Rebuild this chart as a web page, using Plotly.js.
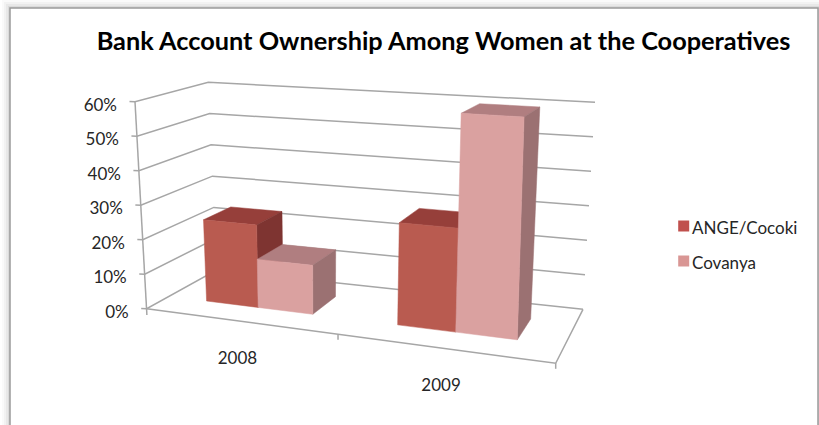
<!DOCTYPE html>
<html>
<head>
<meta charset="utf-8">
<script src="https://cdn.plot.ly/plotly-3.0.1.min.js"></script>
<style>html,body{margin:0;padding:0;background:#fff}#chart{width:819px;height:425px}</style>
</head>
<body>
<div id="chart"></div>
<script>
// Bank account ownership, percent of women, by year and cooperative
const years = ["2008", "2009"];
const seriesNames = ["ANGE/Cocoki", "Covanya"];
const angeCocoki = [24, 28.5];
const covanya = [14, 60];
const valueTicks = [0, 10, 20, 30, 40, 50, 60];
const axisMax = 60;

// Face shades per series
const frontColors = ["#B95B50", "#DAA1A0"];
const topColors = ["#963F3A", "#B07E80"];
const sideColors = ["#7E3431", "#9B7172"];
const legendColors = ["#C0504D", "#D99694"];

// Projected box of the oblique chart: floor and ceiling corners in page pixels
const floorQuad = [[146.7, 308.7], [555.7, 363.3], [583, 309.3], [216.5, 270]];
const topQuad = [[135, 101.7], [561, 128], [595, 102.3], [208.3, 82.3]];

// Unit-square to quad perspective map
function quadMap(q) {
  const [[x0, y0], [x1, y1], [x2, y2], [x3, y3]] = q;
  const dx1 = x1 - x2, dx2 = x3 - x2, dx3 = x0 - x1 + x2 - x3;
  const dy1 = y1 - y2, dy2 = y3 - y2, dy3 = y0 - y1 + y2 - y3;
  const det = dx1 * dy2 - dx2 * dy1;
  const g = (dx3 * dy2 - dx2 * dy3) / det;
  const h = (dx1 * dy3 - dx3 * dy1) / det;
  const a = x1 - x0 + g * x1, b = x3 - x0 + h * x3;
  const d = y1 - y0 + g * y1, e = y3 - y0 + h * y3;
  return (u, v) => {
    const w = g * u + h * v + 1;
    return [(a * u + b * v + x0) / w, (d * u + e * v + y0) / w];
  };
}
const mapFloor = quadMap(floorQuad);
const mapTop = quadMap(topQuad);

// u runs along the categories, d runs front to back, val is the data value
function project(u, d, val) {
  const t = val / axisMax;
  const p = mapFloor(u, d), q = mapTop(u, d);
  return [p[0] + (q[0] - p[0]) * t, p[1] + (q[1] - p[1]) * t];
}

const traces = [];
function polyline(points, color, width) {
  traces.push({
    type: "scatter", mode: "lines", showlegend: false, hoverinfo: "skip",
    x: points.map(p => p[0]), y: points.map(p => p[1]),
    line: { color: color, width: width }
  });
}
function face(points, color, name) {
  const loop = points.concat([points[0]]);
  traces.push({
    type: "scatter", mode: "lines", fill: "toself", fillcolor: color, name: name,
    showlegend: false, hoverinfo: "skip",
    x: loop.map(p => p[0]), y: loop.map(p => p[1]),
    line: { color: color, width: 0.5 }
  });
}

const gridColor = "#A6A6A6";
const gridWidth = 1.5;

// Walls: left wall, back wall, tick stubs and the floor outline
valueTicks.forEach(v => {
  const a = project(0, 0, v);
  polyline([[a[0] - 5.5, a[1] - 0.3], a, project(0, 1, v), project(1, 1, v)], gridColor, gridWidth);
});
polyline([project(0, 0, axisMax), project(0, 0, 0), [146.9, 315]], gridColor, gridWidth);
const floorFrontRight = project(1, 0, 0);
polyline([project(0, 0, 0), floorFrontRight, project(1, 1, 0)], gridColor, gridWidth);
polyline([floorFrontRight, [floorFrontRight[0], floorFrontRight[1] + 5.5]], gridColor, gridWidth);
const midTick = project(0.52, 0, 0);
polyline([midTick, [midTick[0], midTick[1] + 5.5]], gridColor, gridWidth);

// Bars: each category band is split between the two series
const catBands = [[0.1136, 0.411], [0.626, 0.9]];
const depthBand = [0.294, 0.695];
const seriesValues = [angeCocoki, covanya];
years.forEach((yr, c) => {
  const [lo, hi] = catBands[c];
  const mid = (lo + hi) / 2;
  seriesValues.forEach((vals, s) => {
    const u0 = s === 0 ? lo : mid, u1 = s === 0 ? mid : hi;
    const [d0, d1] = depthBand;
    const v = vals[c];
    const name = seriesNames[s] + " " + yr;
    face([project(u0, d0, v), project(u1, d0, v), project(u1, d1, v), project(u0, d1, v)], topColors[s], name);
    face([project(u1, d0, 0), project(u1, d1, 0), project(u1, d1, v), project(u1, d0, v)], sideColors[s], name);
    face([project(u0, d0, 0), project(u1, d0, 0), project(u1, d0, v), project(u0, d0, v)], frontColors[s], name);
  });
});

const labelFont = { family: "Lato, 'Open Sans', sans-serif", size: 17, color: "#262626" };

// Value labels beside the left wall
const tickPts = valueTicks.map(v => project(0, 0, v));
traces.push({
  type: "scatter", mode: "text", showlegend: false, hoverinfo: "skip",
  x: tickPts.map(p => p[0] - 18), y: tickPts.map(p => p[1] + 4.8),
  text: valueTicks.map(v => v + "%"), textposition: "middle left", textfont: labelFont
});

// Year labels under the front edge
const catCenters = [0.26, 0.76];
const catPts = catCenters.map(u => project(u, 0, 0));
traces.push({
  type: "scatter", mode: "text", showlegend: false, hoverinfo: "skip",
  x: catPts.map(p => p[0]), y: catPts.map(p => p[1] + 38.5),
  text: years, textposition: "middle center", textfont: labelFont
});

// Key on the right
seriesNames.forEach((n, i) => {
  const rowY = 226 + i * 35;
  traces.push({
    type: "scatter", mode: "markers", showlegend: false, hoverinfo: "skip", name: n,
    x: [683.7], y: [rowY],
    marker: { symbol: "square", size: 11, color: legendColors[i] }
  });
  traces.push({
    type: "scatter", mode: "text", showlegend: false, hoverinfo: "skip", name: n,
    x: [692], y: [rowY + 3.5],
    text: [n], textposition: "middle right", textfont: labelFont
  });
});

// Card outline with a soft shadow around it
const shapes = [];
[[8, 0.02], [6, 0.03], [4, 0.04], [2, 0.06]].forEach(([o, a]) => {
  shapes.push({ type: "rect", xref: "x", yref: "y", layer: "below",
    x0: 10 - o, x1: 818 + o, y0: 8 - o, y1: 440, fillcolor: "rgba(0,0,0," + a + ")", line: { width: 0 } });
});
shapes.push({ type: "rect", xref: "x", yref: "y", layer: "below",
  x0: 10, x1: 818, y0: 8, y1: 440, fillcolor: "#FFFFFF", line: { color: "#9A9A9A", width: 1.5 } });

const layout = {
  width: 819, height: 425, margin: { l: 0, r: 0, t: 0, b: 0 },
  paper_bgcolor: "#FFFFFF", plot_bgcolor: "rgba(0,0,0,0)", showlegend: false,
  title: {
    text: "Bank Account Ownership Among Women at the Cooperatives",
    x: 443.5 / 819, xanchor: "center", y: 1 - 41 / 425, yanchor: "middle",
    font: { family: "Lato, 'Open Sans', sans-serif", size: 25.3, color: "#000000", weight: 700 }
  },
  xaxis: { range: [0, 819], visible: false, fixedrange: true },
  yaxis: { range: [425, 0], visible: false, fixedrange: true },
  shapes: shapes
};

Plotly.newPlot("chart", traces, layout, { displayModeBar: false, staticPlot: true });
</script>
</body>
</html>
